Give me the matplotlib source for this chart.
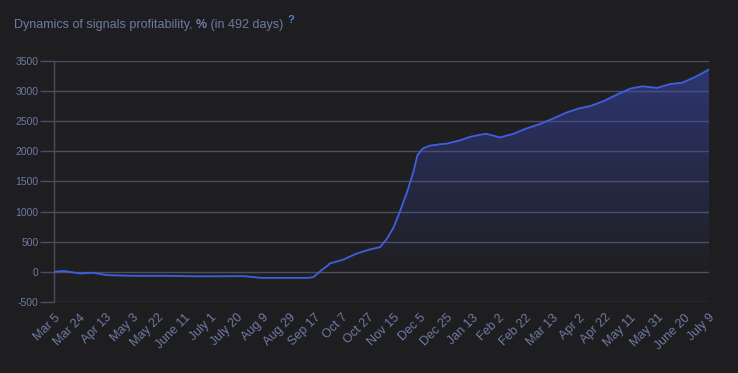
import numpy as np
import pandas as pd
import matplotlib
matplotlib.use("Agg")
import matplotlib.pyplot as plt
from matplotlib.colors import LinearSegmentedColormap
from matplotlib.text import Annotation

# --- Daten ---
start = pd.Timestamp("2023-03-05")
day_offsets = [0, 7, 20, 29, 40, 59, 85, 107, 143, 156, 191, 195, 201, 206, 207,
               217, 227, 237, 245, 250, 255, 260, 265, 270, 273, 277, 282, 290,
               295, 305, 312, 320, 325, 335, 345, 354, 365, 374, 385, 394, 403,
               413, 423, 433, 442, 453, 463, 472, 483, 492]
profit = [0, 15, -28, -15, -55, -66, -66, -75, -72, -100, -100, -85, 28, 110, 137,
          200, 300, 370, 410, 545, 735, 1010, 1310, 1660, 1935, 2045, 2090, 2115,
          2125, 2180, 2235, 2272, 2288, 2228, 2288, 2370, 2451, 2533, 2641, 2707, 2750,
          2832, 2940, 3038, 3076, 3049, 3114, 3135, 3245, 3355]

tick_dates = ["2023-03-05", "2023-03-24", "2023-04-13", "2023-05-03", "2023-05-22",
              "2023-06-11", "2023-07-01", "2023-07-20", "2023-08-09", "2023-08-29",
              "2023-09-17", "2023-10-07", "2023-10-27", "2023-11-15", "2023-12-05",
              "2023-12-25", "2024-01-13", "2024-02-02", "2024-02-22", "2024-03-13",
              "2024-04-02", "2024-04-22", "2024-05-11", "2024-05-31", "2024-06-20",
              "2024-07-09"]
tick_labels = ["Mar 5", "Mar 24", "Apr 13", "May 3", "May 22", "June 11", "July 1",
               "July 20", "Aug 9", "Aug 29", "Sep 17", "Oct 7", "Oct 27", "Nov 15",
               "Dec 5", "Dec 25", "Jan 13", "Feb 2", "Feb 22", "Mar 13", "Apr 2",
               "Apr 22", "May 11", "May 31", "June 20", "July 9"]
y_ticks = [-500, 0, 500, 1000, 1500, 2000, 2500, 3000, 3500]

dates = start + pd.to_timedelta(day_offsets, unit="D")
tick_pos = pd.to_datetime(tick_dates)

plt.rcParams['font.family'] = ['Liberation Sans', 'DejaVu Sans']

bg = '#1e1e21'
grid_c = '#4b4e5e'
txt_c = '#6f7aa2'
line_c = '#3f5fe0'

fig = plt.figure(figsize=(7.38, 3.73), dpi=100, facecolor=bg)
ax = fig.add_axes([54 / 738, 1 - 302 / 373, 655 / 738, (302 - 60.7) / 373])
ax.set_facecolor('#1f1f22')

# Gitterlinien
for yv in y_ticks:
    ax.axhline(yv, color=grid_c, lw=1, zorder=1)

# Fläche mit Verlauf (oben kräftig, zur Null hin transparent)
xnum = matplotlib.dates.date2num(dates)
poly = ax.fill_between(dates, profit, 0, color='none', lw=0)
cmap = LinearSegmentedColormap.from_list(
    'fade', [(0.24, 0.31, 0.78, 0.0), (0.24, 0.31, 0.78, 0.50)])
grad = np.linspace(0, 1, 256).reshape(-1, 1)
img = ax.imshow(grad, cmap=cmap, aspect='auto', origin='lower',
                extent=[xnum[0], xnum[-1], 0, 3500], zorder=2)
img.set_clip_path(poly.get_paths()[0], transform=ax.transData)

ax.plot(dates, profit, color=line_c, lw=1.3, zorder=3)

ax.set_xlim(dates[0], dates[-1])
ax.set_ylim(-500, 3500)

ax.set_yticks(y_ticks)
ax.set_yticklabels([str(v) for v in y_ticks])
ax.set_xticks(tick_pos)
ax.set_xticklabels(tick_labels, rotation=45, ha='right', rotation_mode='anchor')

ax.tick_params(axis='y', length=10, width=1, color=grid_c, labelcolor=txt_c,
               labelsize=7.5, pad=1)
ax.tick_params(axis='x', length=0, labelcolor=txt_c, labelsize=9, pad=7)

for s in ['top', 'right', 'bottom']:
    ax.spines[s].set_visible(False)
ax.spines['left'].set_color(grid_c)
ax.spines['left'].set_linewidth(1)

# Titel aus Teilstücken, "%" fett, "?" hochgestellt
t1 = fig.text(14 / 738, 1 - 28 / 373, "Dynamics of signals profitability, ",
              color=txt_c, fontsize=9, va='baseline')
a2 = fig.add_artist(Annotation("%", xy=(1, 0), xycoords=t1, va='bottom', ha='left',
                               color=txt_c, fontsize=9, fontweight='bold'))
a3 = fig.add_artist(Annotation(" (in 492 days)", xy=(1, 0), xycoords=a2,
                               va='bottom', ha='left', color=txt_c, fontsize=9))
fig.add_artist(Annotation("?", xy=(1, 1), xycoords=a3, xytext=(3, -1),
                          textcoords='offset points', va='center', ha='left',
                          color='#5b7bd8', fontsize=8, fontweight='bold'))

fig.savefig('out.png', dpi=100, facecolor=bg)
